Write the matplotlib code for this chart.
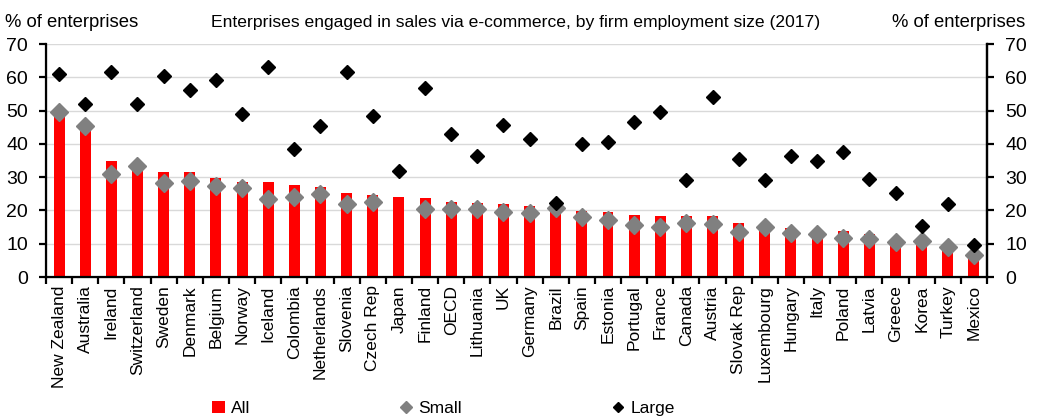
import numpy as np
import matplotlib
matplotlib.use("Agg")
import matplotlib.pyplot as plt
from matplotlib.lines import Line2D
from matplotlib.patches import Patch

plt.rcParams["font.family"] = ["Liberation Sans", "DejaVu Sans"]

# -- Data: share of enterprises selling via e-commerce, 2017 (%) -------------
countries = [
    "New Zealand", "Australia", "Ireland", "Switzerland", "Sweden", "Denmark",
    "Belgium", "Norway", "Iceland", "Colombia", "Netherlands", "Slovenia",
    "Czech Rep", "Japan", "Finland", "OECD", "Lithuania", "UK", "Germany",
    "Brazil", "Spain", "Estonia", "Portugal", "France", "Canada", "Austria",
    "Slovak Rep", "Luxembourg", "Hungary", "Italy", "Poland", "Latvia",
    "Greece", "Korea", "Turkey", "Mexico",
]
all_firms = [
    49.7, 45.7, 34.9, 33.0, 31.4, 31.4, 29.7, 28.4, 28.4, 27.6, 27.1, 25.2,
    24.7, 23.9, 23.6, 22.6, 22.2, 21.9, 21.4, 21.0, 19.9, 19.6, 18.6, 18.3,
    18.3, 18.2, 16.1, 15.0, 14.8, 13.3, 13.7, 12.8, 11.1, 10.4, 9.0, 6.6,
]
small = [
    49.7, 45.5, 30.9, 33.5, 28.2, 28.7, 27.4, 26.6, 23.5, 24.0, 25.0, 21.9,
    22.5, np.nan, 20.3, 20.3, 20.3, 19.5, 19.2, 20.8, 17.9, 17.0, 15.6, 15.1,
    16.3, 15.8, 13.5, 15.0, 13.1, 13.0, 11.6, 11.4, 10.4, 10.7, 8.9, 6.5,
]
large = [
    60.9, 52.0, 61.7, 52.0, 60.5, 56.2, 59.1, 49.1, 63.2, 38.4, 45.4, 61.7,
    48.3, 31.7, 56.8, 43.0, 36.5, 45.6, 41.6, 22.3, 39.9, 40.6, 46.6, 49.6,
    29.1, 54.1, 35.6, 29.1, 36.5, 34.8, 37.6, 29.3, 25.1, 15.4, 21.8, 9.5,
]

x = np.arange(len(countries))

fig = plt.figure(figsize=(10.38, 4.18), dpi=100)
ax = fig.add_axes([0.0443, 0.3373, 0.9066, 0.5574])

ax.bar(x, all_firms, width=0.42, color="#ff0000", zorder=2)
ax.plot(x, small, linestyle="none", marker="D", markersize=9,
        color="#808080", zorder=3)
ax.plot(x, large, linestyle="none", marker="D", markersize=7.5,
        color="black", zorder=4)

ax.set_xlim(-0.5, len(countries) - 0.5)
ax.set_ylim(0, 70)
ax.set_yticks(range(0, 71, 10))
ax.yaxis.grid(True, color="#d9d9d9", linewidth=1, zorder=0)
ax.set_axisbelow(True)

ax.set_xticks(x)
ax.set_xticklabels(countries, rotation=90, fontsize=12.5)
ax.set_xticks(np.arange(-0.5, len(countries)), minor=True)
ax.tick_params(axis="x", which="major", length=0, pad=6)
ax.tick_params(axis="x", which="minor", length=5, width=1.6, direction="out")
ax.tick_params(axis="y", labelsize=14, length=5, width=1.6, direction="out", pad=8)

ax.spines["top"].set_visible(False)
for side in ["left", "right", "bottom"]:
    ax.spines[side].set_linewidth(1.6)

# Mirror the value axis on the right
ax2 = ax.twinx()
ax2.set_ylim(ax.get_ylim())
ax2.set_yticks(range(0, 71, 10))
ax2.tick_params(axis="y", labelsize=14, length=5, width=1.6, direction="out", pad=8)
ax2.spines["top"].set_visible(False)
ax2.spines["right"].set_linewidth(1.6)

fig.text(0.005, 0.945, "% of enterprises", fontsize=13.3, ha="left", va="center")
fig.text(0.988, 0.945, "% of enterprises", fontsize=13.3, ha="right", va="center")
fig.text(0.497, 0.945,
         "Enterprises engaged in sales via e-commerce, by firm employment size (2017)",
         fontsize=12.6, ha="center", va="center")

handles = [
    Patch(facecolor="#ff0000", label="All"),
    Line2D([], [], linestyle="none", marker="D", markersize=6,
           color="#808080", label="Small"),
    Line2D([], [], linestyle="none", marker="D", markersize=5,
           color="black", label="Large"),
]
fig.legend(handles=handles, loc="center", bbox_to_anchor=(0.427, 0.022),
           ncol=3, frameon=False, fontsize=12.5, columnspacing=8.6,
           handlelength=0.8, handletextpad=0.3)

plt.savefig("out.png", dpi=100)
plt.close(fig)
